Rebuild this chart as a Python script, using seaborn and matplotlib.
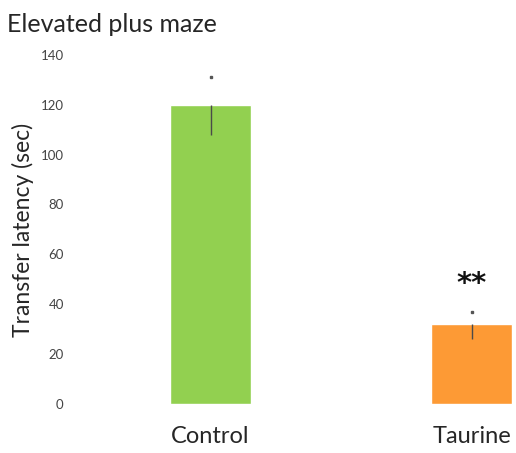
import matplotlib
matplotlib.use("Agg")
import matplotlib.pyplot as plt
import seaborn as sns
import pandas as pd

groups = ["Control", "Taurine"]
latency = [120, 32]
err_low = [12, 6]
err_high = [11, 5]
bar_colors = ["#92d050", "#fd9a35"]
y_ticks = [0, 20, 40, 60, 80, 100, 120, 140]

sns.set_theme(style="white")
plt.rcParams["font.family"] = ["Lato", "DejaVu Sans"]

df = pd.DataFrame({"group": groups, "latency": latency})

fig = plt.figure(figsize=(5.16, 4.53), dpi=100)
ax = fig.add_axes([0.145, 0.108, 0.855, 0.771])

sns.barplot(data=df, x="group", y="latency", hue="group", palette=bar_colors,
            width=0.31, legend=False, ax=ax, errorbar=None, saturation=1)

# error bars: dark line inside the bar, only a dot above it
for i, (m, lo, hi) in enumerate(zip(latency, err_low, err_high)):
    ax.vlines(i, m - lo, m, color="#4a4a4a", lw=1.0)
    ax.plot([i], [m + hi], marker="s", ms=1.5, color="#555555")

ax.text(1, 48, "**", ha="center", va="center", family="DejaVu Sans",
        fontsize=21, fontweight="bold", color="#111111")

ax.set_ylim(0, 140)
ax.set_xlim(-0.52, 1.17)
ax.set_yticks(y_ticks)
ax.tick_params(axis="y", labelsize=9.5, pad=8, colors="#444444", length=0)
ax.tick_params(axis="x", labelsize=17, pad=16, length=0)
ax.set_xlabel("")
ax.set_ylabel("Transfer latency (sec)", fontsize=16.5, labelpad=5)
sns.despine(ax=ax, left=True, bottom=True)

fig.text(0.014, 0.945, "Elevated plus maze", fontsize=18, ha="left", va="center")

fig.savefig("out.png", dpi=100)
